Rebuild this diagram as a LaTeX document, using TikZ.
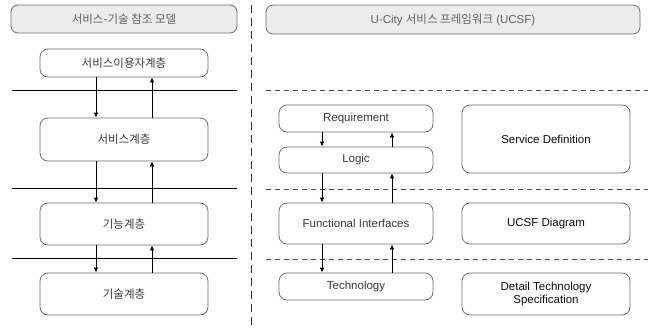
\documentclass[tikz,border=0pt]{standalone}
\usepackage{fontspec}
\setmainfont{Liberation Sans}
\newfontfamily\kr{Noto Sans CJK KR}
\usetikzlibrary{arrows.meta}
\definecolor{edge}{HTML}{6E6E6E}
\definecolor{txt}{HTML}{3A3A3A}
\definecolor{hdrfill}{HTML}{ECECEC}
\begin{document}
\begin{tikzpicture}[x=1pt,y=-1pt,
  box/.style={draw=edge,line width=0.8pt,fill=white,rounded corners=8pt,inner sep=0pt,
    font=\fontsize{11.5}{13}\selectfont,text=txt,align=center},
  hdr/.style={box,fill=hdrfill,rounded corners=7pt,text=txt!80},
  bold/.style={text=black!95},
  sep/.style={line width=1pt,black},
  dsep/.style={line width=0.8pt,black!70,dash pattern=on 5pt off 4pt},
  arr/.style={line width=0.8pt,black,-{Latex[length=5pt,width=4.5pt]}}]
\useasboundingbox (0,0) rectangle (648,327);
% left column
\node[hdr,minimum width=226pt,minimum height=28pt] (lh) at (124,19) {\kr 서비스-기술 참조 모델};
\node[box,minimum width=168pt,minimum height=28pt] (l1) at (124,63) {\kr 서비스이용자계층};
\node[box,minimum width=168pt,minimum height=43pt] (l2) at (124,139.5) {\kr 서비스계층};
\node[box,minimum width=168pt,minimum height=42pt] (l3) at (124,224) {\kr 기능계층};
\node[box,minimum width=168pt,minimum height=42pt] (l4) at (124,294) {\kr 기술계층};
\coordinate (sa) at (12,90); \coordinate (sb) at (237,90);
\coordinate (sc) at (12,188); \coordinate (sd) at (237,188);
\coordinate (se) at (12,258); \coordinate (sf) at (237,258);
\draw[sep] (sa) -- (sb);
\draw[sep] (sc) -- (sd);
\draw[sep] (se) -- (sf);
\coordinate (ld) at (96,0); \coordinate (lu) at (152,0);
\draw[arr] (l1.south -| ld) -- (l2.north -| ld);
\draw[arr] (l2.north -| lu) -- (l1.south -| lu);
\draw[arr] (l2.south -| ld) -- (l3.north -| ld);
\draw[arr] (l3.north -| lu) -- (l2.south -| lu);
\draw[arr] (l3.south -| ld) -- (l4.north -| ld);
\draw[arr] (l4.north -| lu) -- (l3.south -| lu);
% divider
\coordinate (vt) at (251,5); \coordinate (vb) at (251,327);
\draw[line width=0.9pt,black!80,dash pattern=on 8pt off 5pt] (vt) -- (vb);
% right column
\node[hdr,minimum width=374pt,minimum height=29pt] (rh) at (453,19.5) {U-City {\kr 서비스 프레임워크} (UCSF)};
\node[box,minimum width=154pt,minimum height=27pt] (req) at (356,118.5) {Requirement};
\node[box,minimum width=154pt,minimum height=26pt] (log) at (356,160) {Logic};
\node[box,minimum width=154pt,minimum height=41pt] (fi) at (356,223.5) {Functional Interfaces};
\node[box,minimum width=154pt,minimum height=27pt] (tec) at (356,286.5) {Technology};
\node[box,bold,minimum width=168pt,minimum height=68pt] (sdf) at (546,139) {Service Definition};
\node[box,bold,minimum width=168pt,minimum height=41pt] (ud) at (546,223.5) {UCSF Diagram};
\node[box,bold,minimum width=168pt,minimum height=42pt] (dts) at (546,294) {Detail Technology\\Specification};
\coordinate (da) at (266,90); \coordinate (db) at (648,90);
\coordinate (dc) at (266,189); \coordinate (dd) at (648,189);
\coordinate (de) at (266,259); \coordinate (df) at (648,259);
\draw[dsep] (da) -- (db);
\draw[dsep] (dc) -- (dd);
\draw[dsep] (de) -- (df);
\coordinate (rd) at (322,0); \coordinate (ru) at (392,0);
\draw[arr] (req.south -| rd) -- (log.north -| rd);
\draw[arr] (log.north -| ru) -- (req.south -| ru);
\draw[arr] (log.south -| rd) -- (fi.north -| rd);
\draw[arr] (fi.north -| ru) -- (log.south -| ru);
\draw[arr] (fi.south -| rd) -- (tec.north -| rd);
\draw[arr] (tec.north -| ru) -- (fi.south -| ru);
\end{tikzpicture}
\end{document}
